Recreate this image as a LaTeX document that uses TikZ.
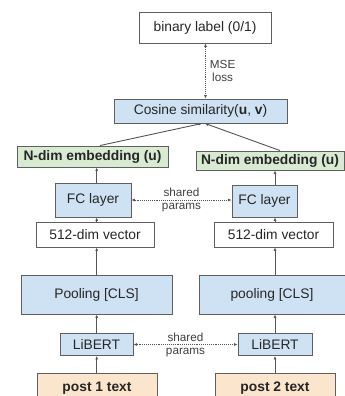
\documentclass[tikz,border=0pt]{standalone}
\usepackage{fontspec}
\setmainfont{Liberation Sans}
\usetikzlibrary{arrows.meta}
\definecolor{bordergray}{HTML}{5F5F5F}
\definecolor{boxblue}{HTML}{CFE2F3}
\definecolor{boxgreen}{HTML}{D9EAD3}
\definecolor{boxpeach}{HTML}{FCE5CD}
\definecolor{linegray}{HTML}{555555}
\tikzset{
  box/.style={draw=bordergray, line width=0.9pt, rectangle, inner sep=0pt, align=center, font=\fontsize{13.8}{16}\selectfont, text=black!85},
  bluebox/.style={box, fill=boxblue},
  greenbox/.style={box, fill=boxgreen, font=\fontsize{13.8}{16}\selectfont\bfseries},
  peachbox/.style={box, fill=boxpeach, font=\fontsize{13.8}{16}\selectfont\bfseries},
  whitebox/.style={box, fill=white},
  arr/.style={draw=linegray, line width=0.9pt, -{Latex[length=3.5pt,width=3pt]}},
  dotarr/.style={draw=linegray, line width=0.9pt, densely dotted, {Latex[length=3.5pt,width=3pt]}-{Latex[length=3.5pt,width=3pt]}},
  smalllbl/.style={font=\fontsize{11.7}{13}\selectfont, text=black!75, inner sep=0pt, align=center},
}
\begin{document}
\begin{tikzpicture}[x=1pt,y=-1pt]
\useasboundingbox (0,0) rectangle (345,396);
\fill[white] (0,0) rectangle (345,396);
\clip (0,0) rectangle (345,396);
% top
\node[whitebox, minimum width=132pt, minimum height=31pt] (bin) at (205,27.5) {binary label (0/1)};
\node[bluebox, minimum width=173pt, minimum height=24pt] (cos) at (200.5,111) {Cosine similarity(\textbf{u}, \textbf{v})};
% embeddings
\node[greenbox, minimum width=151pt, minimum height=21pt] (embL) at (92.5,156.5) {N-dim embedding (u)};
\node[greenbox, minimum width=148pt, minimum height=19pt] (embR) at (270,160.5) {N-dim embedding (u)};
% FC
\node[bluebox, minimum width=76pt, minimum height=34pt] (fcL) at (93,200) {FC layer};
\node[bluebox, minimum width=65pt, minimum height=32pt] (fcR) at (264.5,201) {FC layer};
% 512
\node[whitebox, minimum width=118pt, minimum height=25pt] (vecL) at (95,234.5) {512-dim vector};
\node[whitebox, minimum width=119pt, minimum height=25pt] (vecR) at (273.5,234.5) {512-dim vector};
% pooling
\node[bluebox, minimum width=151pt, minimum height=39pt] (poolL) at (96.5,294.5) {Pooling [CLS]};
\node[bluebox, minimum width=146pt, minimum height=39pt] (poolR) at (272,294.5) {pooling [CLS]};
% LiBERT
\node[bluebox, minimum width=73pt, minimum height=22pt] (libL) at (96.5,344.5) {LiBERT};
\node[bluebox, minimum width=74pt, minimum height=22pt] (libR) at (275,344.5) {LiBERT};
% posts
\node[peachbox, minimum width=120pt, minimum height=30pt] (postL) at (97,388) {post 1 text};
\node[peachbox, minimum width=120pt, minimum height=30pt] (postR) at (275,388) {post 2 text};
% coordinates for vertical arrows
\coordinate (cL) at (96.7,0);
\coordinate (cR) at (275,0);
% vertical arrows left
\draw[arr] (postL.north -| cL) -- (libL.south -| cL);
\draw[arr] (libL.north -| cL) -- (poolL.south -| cL);
\draw[arr] (poolL.north -| cL) -- (vecL.south -| cL);
\draw[arr] (vecL.north -| cL) -- (fcL.south -| cL);
\draw[arr] (fcL.north -| cL) -- (embL.south -| cL);
% vertical arrows right
\draw[arr] (postR.north -| cR) -- (libR.south -| cR);
\draw[arr] (libR.north -| cR) -- (poolR.south -| cR);
\draw[arr] (poolR.north -| cR) -- (vecR.south -| cR);
\draw[arr] (vecR.north -| cR) -- (fcR.south -| cR);
\draw[arr] (fcR.north -| cR) -- (embR.south -| cR);
% to cosine
\coordinate (cinL) at (202,0);
\coordinate (cinR) at (205,0);
\coordinate (eL) at (100,0);
\coordinate (eR) at (280,0);
\draw[arr] (embL.north -| eL) -- (cos.south -| cinL);
\draw[arr] (embR.north -| eR) -- (cos.south -| cinR);
% MSE loss
\coordinate (mx) at (205.5,0);
\draw[dotarr] (cos.north -| mx) -- (bin.south -| mx) node[midway, right=4pt, smalllbl] {MSE\\loss};
% shared params
\draw[dotarr] (fcL.east) -- (fcL.east -| fcR.west) node[midway, smalllbl] (sp1) {shared\\params};
\draw[dotarr] (libL.east) -- (libL.east -| libR.west) node[midway, smalllbl] (sp2) {shared\\params};
\end{tikzpicture}
\end{document}
